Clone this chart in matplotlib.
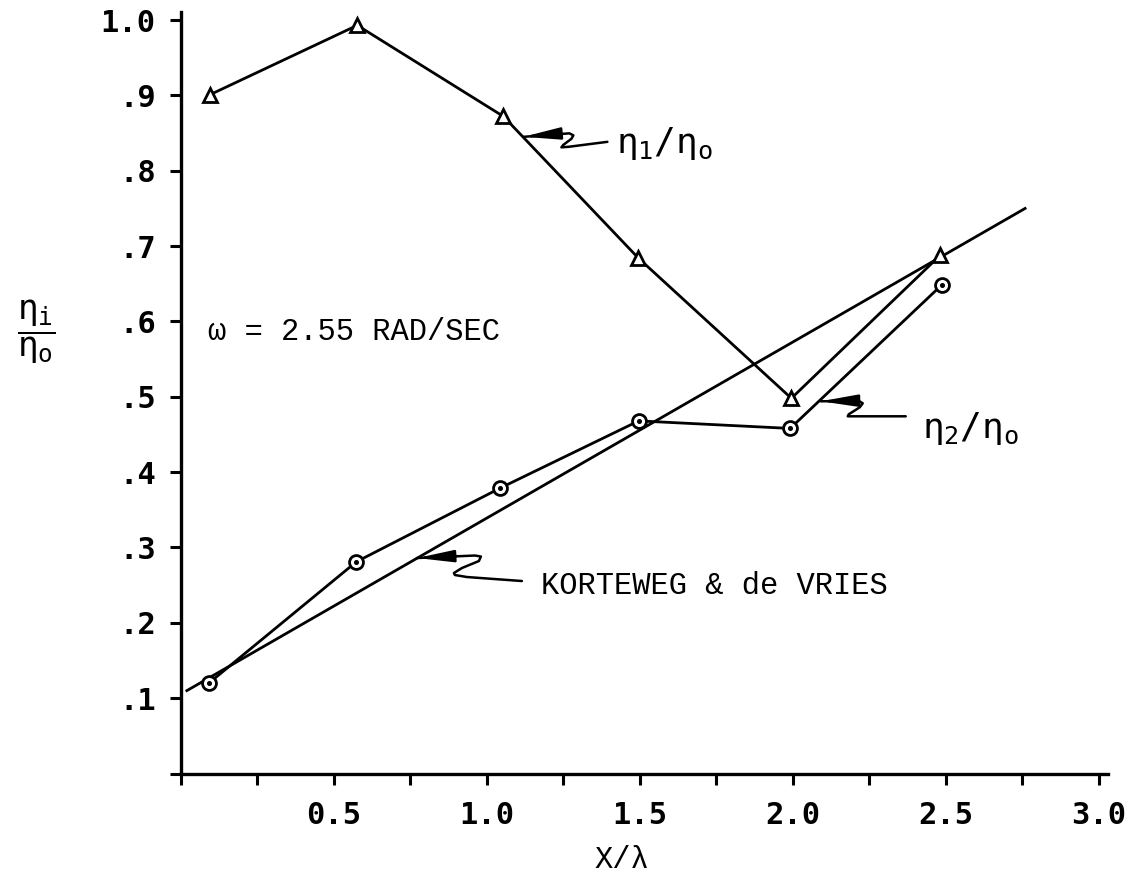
import matplotlib
matplotlib.use("Agg")
import matplotlib.pyplot as plt
from matplotlib import transforms as mtransforms

# ---------------- data ----------------
x_eta1 = [0.096, 0.577, 1.055, 1.496, 1.996, 2.483]
y_eta1 = [0.901, 0.993, 0.872, 0.684, 0.498, 0.688]

x_eta2 = [0.092, 0.574, 1.045, 1.497, 1.992, 2.489]
y_eta2 = [0.120, 0.281, 0.379, 0.468, 0.458, 0.649]

x_kdv = [0.02, 2.76]
y_kdv = [0.11, 0.75]

x_major = [0.5, 1.0, 1.5, 2.0, 2.5, 3.0]
x_major_labels = ["0.5", "1.0", "1.5", "2.0", "2.5", "3.0"]
x_minor = [0.0, 0.25, 0.75, 1.25, 1.75, 2.25, 2.75]
y_major = [0.1, 0.2, 0.3, 0.4, 0.5, 0.6, 0.7, 0.8, 0.9, 1.0]
y_major_labels = [".1", ".2", ".3", ".4", ".5", ".6", ".7", ".8", ".9", "1.0"]
y_minor = [0.0]

label_eta1 = r"$\eta_1/\eta_o$"
label_eta2 = r"$\eta_2/\eta_o$"
label_kdv = "KORTEWEG & de VRIES"
label_omega = "\u03c9 = 2.55 RAD/SEC"
x_title = "X/\u03bb"
y_title = r"$\dfrac{\eta_i}{\eta_o}$"

# annotation anchors (points on the curves where the arrows touch)
tip_eta1 = (1.120, 0.845)
tip_eta2 = (2.092, 0.494)
tip_kdv = (0.772, 0.286)
omega_pos = (0.089, 0.586)

# ---------------- style ----------------
plt.rcParams["mathtext.fontset"] = "custom"
plt.rcParams["mathtext.rm"] = "DejaVu Sans Mono"
plt.rcParams["mathtext.it"] = "DejaVu Sans Mono"
plt.rcParams["mathtext.sf"] = "DejaVu Sans Mono"
plt.rcParams["mathtext.bf"] = "DejaVu Sans Mono:bold"

MONO = ["DejaVu Sans Mono", "DejaVu Sans"]
COURIER = ["Liberation Mono", "DejaVu Sans Mono"]
LW = 2.0

fig = plt.figure(figsize=(11.36, 8.8), dpi=100)
ax = fig.add_axes([0.1591, 0.121, 0.816, 0.8653])
ax.set_xlim(0, 3.03)
ax.set_ylim(0, 1.0106)

for s in ["top", "right"]:
    ax.spines[s].set_visible(False)
for s in ["left", "bottom"]:
    ax.spines[s].set_linewidth(2.4)

ax.set_xticks(x_major)
ax.set_xticklabels(x_major_labels, fontfamily=MONO, fontsize=22, fontweight="bold")
ax.set_xticks(x_minor, minor=True)
ax.set_yticks(y_major)
ax.set_yticklabels(y_major_labels, fontfamily=MONO, fontsize=22, fontweight="bold")
ax.set_yticks(y_minor, minor=True)
ax.tick_params(which="both", direction="out", length=8, width=2.2, color="black")
ax.tick_params(axis="x", which="both", pad=12)
ax.tick_params(axis="y", which="both", pad=10)

# curves
ax.plot(x_kdv, y_kdv, color="black", lw=LW, zorder=2)
ax.plot(x_eta1, y_eta1, color="black", lw=LW, marker="^", ms=10, mfc="white",
        mec="black", mew=2.0, zorder=3, clip_on=False)
ax.plot(x_eta2, y_eta2, color="black", lw=LW, marker="o", ms=10, mfc="white",
        mec="black", mew=2.0, zorder=3, clip_on=False)
ax.plot(x_eta2, y_eta2, ls="none", marker="o", ms=2.6, mfc="black", mec="black",
        zorder=4, clip_on=False)


def squiggle(tip, pts, head_from, text, tdx, tdy, **tkw):
    """Hand-drawn style leader: arrow head at tip, squiggle, then label."""
    sc = fig.dpi / 100.0
    trans = mtransforms.Affine2D().scale(sc) + mtransforms.ScaledTranslation(
        tip[0], tip[1], ax.transData)
    xs = [p[0] for p in pts]
    ys = [p[1] for p in pts]
    ax.plot(xs, ys, color="black", lw=1.8, transform=trans, clip_on=False,
            solid_joinstyle="round", solid_capstyle="round", zorder=5)
    ax.annotate("", xy=tip, xytext=head_from, textcoords="offset pixels",
                arrowprops=dict(arrowstyle="-|>,head_length=1.1,head_width=0.18",
                                color="black", lw=1.8, mutation_scale=20,
                                shrinkA=0, shrinkB=0), zorder=6)
    ax.annotate(text, xy=tip, xytext=(tdx, tdy), textcoords="offset pixels",
                ha="left", va="center", **tkw)


squiggle(tip_eta1,
         [(0, 0), (46, 3.5), (50, 1.5), (48, -2), (40, -8), (38, -10.5), (45, -10), (84, -5)],
         (34, 3), label_eta1, 93, -7, fontsize=26)
squiggle(tip_eta2,
         [(0, 0), (38, 0.5), (42, -2), (39, -6), (28, -13), (27, -15), (32, -15), (85, -15)],
         (30, 0.5), label_eta2, 101, -27, fontsize=26)
squiggle(tip_kdv,
         [(0, 0), (58, 2.5), (64, 1.5), (62, -3), (45, -10), (37, -15), (38, -17), (50, -19), (105, -23)],
         (40, 2), label_kdv, 124, -28, fontfamily=COURIER, fontsize=22)

ax.text(omega_pos[0], omega_pos[1], label_omega, fontfamily=COURIER, fontsize=22,
        ha="left", va="center")

fig.text(622 / 1136, 1 - 860 / 880, x_title, fontfamily=COURIER, fontsize=22,
         ha="center", va="center")
fig.text(36 / 1136, 1 - 332 / 880, y_title, fontsize=25, ha="center", va="center")

fig.savefig("out.png", dpi=100, facecolor="white")
